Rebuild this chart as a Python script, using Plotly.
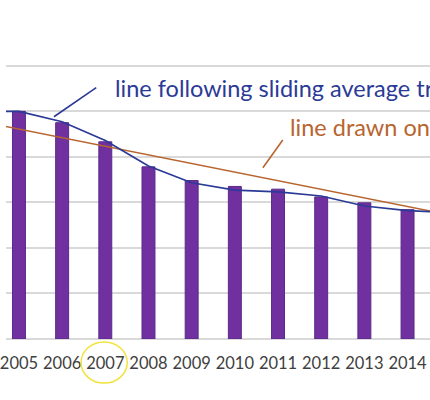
import plotly.graph_objects as go

# bar heights in gridline units (axis labels are outside the crop)
years = [2005, 2006, 2007, 2008, 2009, 2010, 2011, 2012, 2013, 2014]
values = [5.0, 4.75, 4.33, 3.78, 3.48, 3.35, 3.29, 3.12, 2.99, 2.84]

# sliding average line
avg_years = [2004, 2005, 2006, 2007, 2008, 2009, 2010, 2011, 2012, 2013, 2014, 2015]
avg_values = [5.0, 5.0, 4.77, 4.36, 3.80, 3.43, 3.27, 3.23, 3.14, 2.92, 2.82, 2.78]

# straight trend line, end points
trend_years = [2004, 2015]
trend_values = [4.80, 2.72]

tick_text = [str(y) for y in years]

font = "Lato"

fig = go.Figure()
fig.add_trace(go.Scatter(x=trend_years, y=trend_values, mode="lines",
                         line=dict(color="#b8652f", width=1.6)))
fig.add_trace(go.Scatter(x=avg_years, y=avg_values, mode="lines",
                         line=dict(color="#2b3a96", width=1.7)))
fig.add_trace(go.Bar(x=years, y=values, width=0.3,
                     marker=dict(color="#7030a0", line=dict(color="#5a2a88", width=1))))

fig.update_layout(
    width=430, height=400,
    margin=dict(l=0, r=0, t=43, b=61),
    paper_bgcolor="white", plot_bgcolor="white",
    showlegend=False,
    font=dict(family=font),
    xaxis=dict(range=[2004.7, 2014.52], tickvals=years, ticktext=tick_text,
               showgrid=False, zeroline=False, showline=False, ticks="",
               ticklabelstandoff=12, ticklabeloverflow="allow",
               tickfont=dict(size=16.5, color="#404040")),
    yaxis=dict(range=[0, 6.5], dtick=1, showticklabels=False,
               showgrid=True, gridcolor="#d9d9d9", gridwidth=1.5,
               zeroline=True, zerolinecolor="#d9d9d9", zerolinewidth=1.5),
)

fig.add_annotation(x=2007.18, y=5.52, xref="x", yref="y", xanchor="left",
                   text="line following sliding average trend", showarrow=False,
                   font=dict(size=23.5, color="#2b3a96", family=font))
fig.add_annotation(x=2011.22, y=4.66, xref="x", yref="y", xanchor="left",
                   text="line drawn on chart", showarrow=False,
                   font=dict(size=23.5, color="#b8652f", family=font))

# leader lines
fig.add_shape(type="line", x0=2005.81, y0=4.88, x1=2006.79, y1=5.52,
              line=dict(color="#2b3a96", width=1.6))
fig.add_shape(type="line", x0=2010.65, y0=3.76, x1=2011.11, y1=4.37,
              line=dict(color="#b8652f", width=1.6))

# yellow ring round 2007
fig.add_shape(type="circle", xref="paper", yref="paper",
              x0=0.177, x1=0.286, y0=-0.149, y1=-0.010,
              line=dict(color="#f2e23a", width=1.5))

fig.write_html("out.html", config={"displayModeBar": False},
               post_script="document.body.style.margin='0';document.body.style.overflow='hidden';")
